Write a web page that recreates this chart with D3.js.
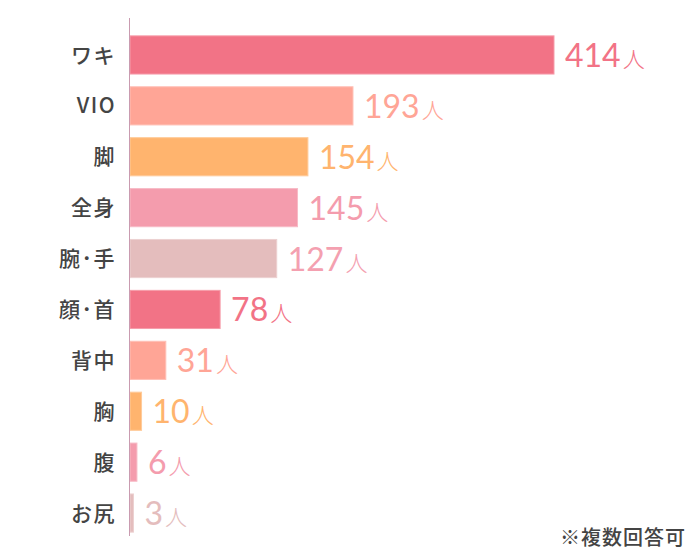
<!DOCTYPE html>
<html><head><meta charset="utf-8">
<script src="https://cdn.jsdelivr.net/npm/d3@7"></script>
<style>html,body{margin:0;padding:0;background:#fff;}</style>
</head><body><div id="chart"></div>
<script>
const categories = ["ワキ","VIO","脚","全身","腕･手","顔･首","背中","胸","腹","お尻"];
const values = [414,193,154,145,127,78,31,10,6,3];
const unitLabel = "人";
const barColors = ["#f27386","#ffa596","#ffb46e","#f49cad","#e4bdbd","#f27386","#ffa596","#ffb46e","#f49cad","#e4bdbd"];
const labelColors = ["#f27386","#ffa596","#ffb46e","#f49cad","#f4a0b0","#f27386","#ffa596","#ffb46e","#f49cad","#e4bdbd"];
const footnote = "※複数回答可";

const W = 700, H = 560;
const svg = d3.select("#chart").append("svg").attr("width", W).attr("height", H);

const x = d3.scaleLinear().domain([0, 367]).range([130, 554]).clamp(true);
const y = d3.scaleBand().domain(categories).range([29.5, 538.5]).paddingInner(0.25).paddingOuter(0.125);

const data = categories.map((c, i) => ({c, v: values[i], bar: barColors[i], lab: labelColors[i]}));

svg.selectAll("rect.bar").data(data).join("rect")
  .attr("class","bar")
  .attr("x", x(0))
  .attr("y", d => y(d.c))
  .attr("width", d => x(d.v) - x(0))
  .attr("height", y.bandwidth())
  .attr("fill", d => d.bar)
  .attr("stroke", d => d3.interpolateRgb(d.bar, "#fff")(0.3))
  .attr("stroke-width", 1);

svg.append("line")
  .attr("x1", 129.5).attr("x2", 129.5).attr("y1", 18).attr("y2", 536)
  .attr("stroke", "#c99bb0").attr("stroke-width", 1);

svg.selectAll("text.cat").data(data).join("text")
  .attr("class","cat")
  .attr("x", 116)
  .attr("y", d => y(d.c) + y.bandwidth()/2)
  .attr("dy", "0.36em")
  .attr("text-anchor","end")
  .attr("font-family", "'Noto Sans CJK JP', 'Noto Sans', sans-serif")
  .attr("font-size", 21)
  .attr("letter-spacing", 1.5)
  .attr("font-weight", 500)
  .attr("fill", "#444")
  .text(d => d.c);

const vl = svg.selectAll("text.val").data(data).join("text")
  .attr("class","val")
  .attr("x", d => Math.max(x(d.v) + 11, 144))
  .attr("y", d => y(d.c) + y.bandwidth()/2 + 12)
  .attr("fill", d => d.lab)
  .attr("font-family", "Lato, 'Open Sans', sans-serif")
  .attr("font-weight", 400);
vl.append("tspan").attr("font-size", 32).text(d => d.v);
vl.append("tspan").attr("dx", 2).attr("font-size", 22)
  .attr("font-family", "'Noto Sans CJK JP', sans-serif").attr("font-weight", 300)
  .text(unitLabel);

svg.append("text")
  .attr("x", 686).attr("y", 545)
  .attr("text-anchor","end")
  .attr("font-family", "'Noto Sans CJK JP', sans-serif")
  .attr("font-size", 20).attr("font-weight", 500)
  .attr("letter-spacing", 1)
  .attr("fill", "#444")
  .text(footnote);
</script></body></html>
